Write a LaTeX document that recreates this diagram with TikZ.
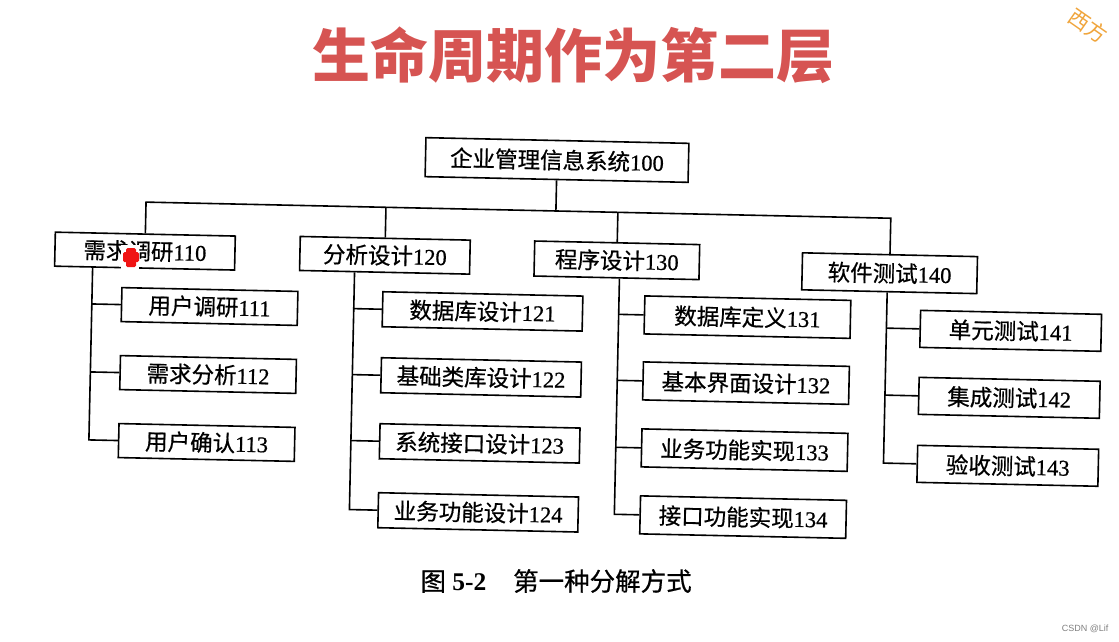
\documentclass[tikz,border=0pt]{standalone}
\usepackage{fontspec}
\setmainfont{Liberation Serif}
\newfontfamily\cjk{Noto Sans CJK SC}
\newfontfamily\cjkh[FakeBold=0.6]{Noto Sans CJK SC}
\newfontfamily\numf[FakeBold=0.7]{Liberation Serif}
\newfontfamily\sfw{Liberation Sans}
\definecolor{titlered}{RGB}{214,84,82}
\definecolor{wmorange}{RGB}{240,165,60}
\definecolor{markred}{RGB}{240,20,20}
\newcommand{\lbl}[2]{{\cjkh #1}{\numf #2}}
\begin{document}
\begin{tikzpicture}[x=1pt,y=-1pt,
  box/.style={draw=black, line width=1.6pt, inner sep=0pt, minimum height=35pt,
    font=\fontsize{22.5}{26}\selectfont},
  conn/.style={line width=1.6pt}]
\fill[white] (0,0) rectangle (1119,642);
\useasboundingbox (0,0) rectangle (1119,642);
\node[font=\cjk\bfseries\fontsize{58}{60}\selectfont, text=titlered] (title) at (573,55) {生命周期作为第二层};

\begin{scope}[shift={(557,160)}, rotate=-1.24, transform shape]
  \node[box, minimum width=263pt, minimum height=39pt] (root) at (0,0) {\lbl{企业管理信息系统}{100}};
  \node[box, minimum width=180pt, minimum height=34pt] (n110) at (-410,100) {\lbl{需求调研}{110}};
  \node[box, minimum width=170pt, minimum height=34pt] (n120) at (-170,99) {\lbl{分析设计}{120}};
  \node[box, minimum width=165pt] (n130) at (62,99) {\lbl{程序设计}{130}};
  \node[box, minimum width=175pt, minimum height=37pt] (n140) at (335,106) {\lbl{软件测试}{140}};

  \node[box, anchor=west, minimum width=176pt, minimum height=34pt] (n111) at (-433,154) {\lbl{用户调研}{111}};
  \node[box, anchor=west, minimum width=176pt, minimum height=34pt] (n112) at (-433,222) {\lbl{需求分析}{112}};
  \node[box, anchor=west, minimum width=176pt, minimum height=34pt] (n113) at (-433,290) {\lbl{用户确认}{113}};

  \node[box, anchor=west, minimum width=200pt] (n121) at (-172,153) {\lbl{数据库设计}{121}};
  \node[box, anchor=west, minimum width=200pt] (n122) at (-172,219) {\lbl{基础类库设计}{122}};
  \node[box, anchor=west, minimum width=200pt] (n123) at (-172,285) {\lbl{系统接口设计}{123}};
  \node[box, anchor=west, minimum width=200pt] (n124) at (-172,354) {\lbl{业务功能设计}{124}};

  \node[box, anchor=west, minimum width=206pt, minimum height=38pt] (n131) at (90,153) {\lbl{数据库定义}{131}};
  \node[box, anchor=west, minimum width=206pt, minimum height=38pt] (n132) at (90,219) {\lbl{基本界面设计}{132}};
  \node[box, anchor=west, minimum width=206pt, minimum height=38pt] (n133) at (90,286) {\lbl{业务功能实现}{133}};
  \node[box, anchor=west, minimum width=206pt, minimum height=38pt] (n134) at (90,353) {\lbl{接口功能实现}{134}};

  \node[box, anchor=west, minimum width=181pt, minimum height=37pt] (n141) at (366,161) {\lbl{单元测试}{141}};
  \node[box, anchor=west, minimum width=181pt, minimum height=37pt] (n142) at (366,228) {\lbl{集成测试}{142}};
  \node[box, anchor=west, minimum width=181pt, minimum height=37pt] (n143) at (366,296) {\lbl{验收测试}{143}};

  \coordinate (bus) at (0,51);
  \coordinate (v1) at (-462,0);
  \coordinate (v2) at (-200,0);
  \coordinate (v3) at (65,0);
  \coordinate (v4) at (333,0);

  \draw[conn] (root.south) -- (bus);
  \draw[conn] (n110.north) |- (bus) -| (n140.north);
  \draw[conn] (n120.north) -- (n120.north |- bus);
  \draw[conn] (n130.north) -- (n130.north |- bus);

  \draw[conn] (n110.south -| v1) |- (n113.west);
  \draw[conn] (n111.west -| v1) -- (n111.west);
  \draw[conn] (n112.west -| v1) -- (n112.west);

  \draw[conn] (n120.south -| v2) |- (n124.west);
  \draw[conn] (n121.west -| v2) -- (n121.west);
  \draw[conn] (n122.west -| v2) -- (n122.west);
  \draw[conn] (n123.west -| v2) -- (n123.west);

  \draw[conn] (n130.south -| v3) |- (n134.west);
  \draw[conn] (n131.west -| v3) -- (n131.west);
  \draw[conn] (n132.west -| v3) -- (n132.west);
  \draw[conn] (n133.west -| v3) -- (n133.west);

  \draw[conn] (n140.south -| v4) |- (n143.west);
  \draw[conn] (n141.west -| v4) -- (n141.west);
  \draw[conn] (n142.west -| v4) -- (n142.west);
\end{scope}

% red mark over the first level-1 label
\fill[white] (121,245) rectangle (139,270);
\fill[markred, rounded corners=1.5pt] (123,252) rectangle (139,262);
\fill[markred, rounded corners=1.5pt] (126,248) rectangle (136,267);

\node[anchor=west, font=\fontsize{25.5}{28}\selectfont] (cap) at (417,581)
  {{\cjkh 图} \textbf{5-2}\hspace{1.05em}{\cjkh 第一种分解方式}};

\node[anchor=east, font=\sfw\fontsize{9}{10}\selectfont, text=gray] (csdn) at (1112,629) {CSDN @Lif};

\node[rotate=-35, anchor=west, inner sep=0pt, text=wmorange, font=\cjk\fontsize{21}{23}\selectfont] (wm) at (1071,14) {西方};
\end{tikzpicture}
\end{document}
